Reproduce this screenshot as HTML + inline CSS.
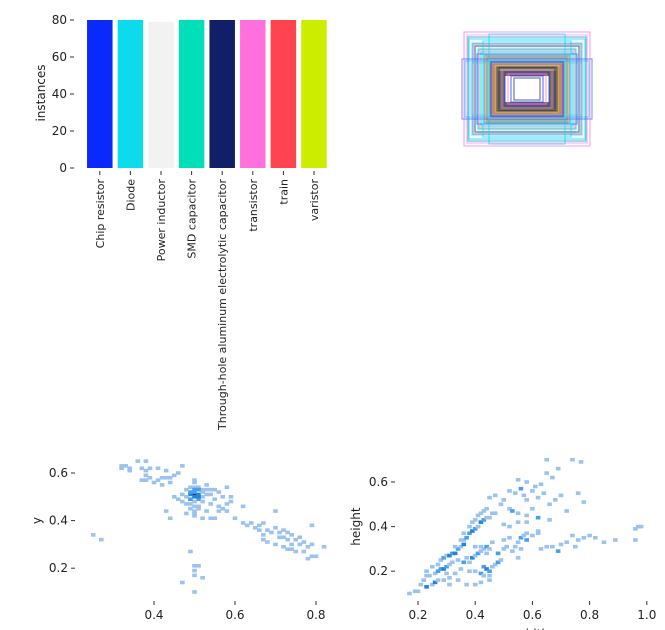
<!DOCTYPE html>
<html><head><meta charset="utf-8"><style>
html,body{margin:0;padding:0;background:#fff;}
svg{display:block;font-family:"DejaVu Sans","Liberation Sans",sans-serif;}
</style></head><body>
<svg id="root" width="665" height="630" viewBox="0 0 665 630">
<g id="bars"></g>
<g id="boxes"></g>
<g id="h1"></g>
<g id="h2"></g>
</svg>
<script>
const NS="http://www.w3.org/2000/svg";
const classNames=["Chip resistor","Diode","Power inductor","SMD capacitor","Through-hole aluminum electrolytic capacitor","transistor","train","varistor"];
const classCounts=[80,80,79,80,80,80,80,80];
const classColors=["#0a29fd","#0bdbeb","#f2f2f2","#00dfb7","#111f68","#ff6fdd","#ff444f","#cced00"];
const barTicks=[0,20,40,60,80];
const xyTicksX=[0.4,0.6,0.8];
const xyTicksY=[0.2,0.4,0.6];
const xyCells=[
[0.32,0.63,1],[0.33,0.63,1],[0.34,0.62,1],[0.32,0.62,1],[0.34,0.61,1],[0.36,0.65,1],[0.38,0.65,1],[0.37,0.62,1],[0.38,0.61,1],[0.39,0.62,1],[0.38,0.59,1],[0.37,0.57,1],[0.38,0.57,1],[0.39,0.58,1],[0.41,0.57,1],[0.42,0.58,1],[0.43,0.58,1],[0.44,0.58,1],[0.45,0.59,1],[0.41,0.62,1],[0.40,0.56,1],[0.42,0.55,1],[0.44,0.56,1],[0.46,0.60,1],[0.47,0.63,1],[0.43,0.61,1],
[0.5,0.51,4],[0.49,0.51,3],[0.51,0.51,3],[0.5,0.50,3],[0.5,0.52,2],[0.51,0.49,2],[0.49,0.52,2],[0.48,0.5,1],[0.47,0.51,1],[0.48,0.53,1],[0.49,0.54,1],[0.5,0.54,1],[0.51,0.54,1],[0.52,0.53,1],[0.53,0.53,1],[0.54,0.53,1],[0.55,0.53,1],[0.52,0.52,1],[0.53,0.51,1],[0.54,0.51,1],[0.52,0.50,1],[0.52,0.48,1],[0.5,0.48,1],[0.49,0.47,1],[0.48,0.47,1],[0.5,0.46,1],[0.49,0.45,1],[0.51,0.45,1],[0.5,0.44,1],[0.5,0.43,1],[0.5,0.42,1],[0.51,0.46,1],[0.47,0.48,1],[0.46,0.49,1],[0.45,0.50,1],[0.5,0.56,1],[0.5,0.57,1],[0.53,0.55,1],[0.56,0.52,1],[0.57,0.50,1],[0.55,0.49,1],[0.54,0.47,1],[0.56,0.46,1],[0.57,0.45,1],[0.58,0.47,1],[0.59,0.50,1],[0.59,0.48,1],[0.56,0.44,1],[0.53,0.44,1],[0.52,0.41,1],[0.54,0.41,1],[0.55,0.41,1],[0.58,0.44,1],[0.60,0.41,1],[0.62,0.46,1],[0.58,0.54,1],[0.50,0.53,2],[0.51,0.53,2],[0.49,0.49,2],[0.51,0.50,3],[0.48,0.43,1],[0.43,0.44,1],[0.44,0.41,1],
[0.62,0.39,1],[0.63,0.38,1],[0.64,0.39,1],[0.65,0.37,1],[0.66,0.38,1],[0.67,0.39,1],[0.66,0.36,1],[0.68,0.36,1],[0.67,0.34,1],[0.69,0.35,1],[0.70,0.37,1],[0.71,0.35,1],[0.72,0.36,1],[0.73,0.35,1],[0.74,0.34,1],[0.71,0.33,1],[0.72,0.33,1],[0.73,0.32,1],[0.75,0.32,1],[0.76,0.33,1],[0.77,0.31,1],[0.74,0.30,1],[0.76,0.30,1],[0.78,0.29,1],[0.79,0.30,1],[0.82,0.29,1],[0.70,0.30,1],[0.68,0.31,1],[0.72,0.29,1],[0.73,0.28,1],[0.75,0.27,1],[0.77,0.27,1],[0.79,0.25,1],[0.78,0.24,1],[0.80,0.25,1],[0.70,0.44,1],[0.79,0.38,1],[0.74,0.28,1],[0.67,0.32,1],
[0.25,0.34,1],[0.27,0.32,1],[0.49,0.27,1],[0.5,0.21,1],[0.51,0.21,1],[0.5,0.19,1],[0.5,0.17,1],[0.52,0.16,1],[0.47,0.14,1],[0.5,0.10,1]];
const whTicksX=[0.2,0.4,0.6,0.8,1.0];
const whTicksY=[0.2,0.4,0.6];
const whCells=[
[0.17,0.10,1],[0.19,0.11,1],[0.2,0.11,1],[0.21,0.14,1],[0.22,0.16,1],[0.23,0.18,1],[0.24,0.18,1],[0.23,0.13,3],[0.25,0.14,1],[0.26,0.15,3],[0.26,0.19,1],[0.27,0.20,2],[0.28,0.21,2],[0.29,0.21,3],[0.3,0.22,2],[0.31,0.23,1],[0.27,0.23,1],[0.28,0.25,1],[0.29,0.26,2],[0.3,0.27,1],[0.31,0.27,3],[0.32,0.28,2],[0.33,0.28,3],[0.34,0.30,2],[0.35,0.31,1],[0.36,0.32,3],[0.36,0.34,1],[0.37,0.35,2],[0.38,0.37,2],[0.39,0.38,3],[0.4,0.39,2],[0.41,0.40,1],[0.42,0.42,3],[0.43,0.43,2],[0.44,0.44,1],[0.45,0.44,1],[0.46,0.46,1],[0.47,0.46,1],[0.42,0.46,1],[0.43,0.47,1],[0.44,0.48,1],[0.38,0.40,1],[0.39,0.42,1],[0.40,0.43,1],[0.41,0.45,1],[0.36,0.37,1],[0.35,0.34,1],[0.33,0.31,1],[0.32,0.24,1],[0.34,0.25,1],[0.36,0.24,2],[0.38,0.24,1],[0.37,0.26,1],[0.39,0.26,3],[0.40,0.27,1],[0.41,0.28,2],[0.42,0.29,1],[0.43,0.30,1],[0.44,0.31,2],[0.45,0.30,1],[0.46,0.33,1],[0.40,0.31,1],[0.42,0.31,1],[0.44,0.28,1],[0.43,0.22,2],[0.44,0.21,3],[0.45,0.20,2],[0.46,0.22,1],[0.47,0.23,1],[0.48,0.24,2],[0.49,0.25,1],[0.42,0.19,2],[0.43,0.18,1],[0.45,0.18,1],[0.40,0.20,1],[0.38,0.20,1],[0.35,0.21,1],[0.33,0.19,1],[0.31,0.17,1],[0.29,0.16,1],[0.27,0.16,1],[0.31,0.14,1],[0.34,0.16,1],[0.37,0.14,1],[0.40,0.14,1],[0.42,0.15,1],[0.45,0.16,1],[0.30,0.19,1],[0.25,0.22,1],[0.23,0.20,1],[0.48,0.28,2],[0.50,0.30,1],[0.51,0.31,1],[0.50,0.34,1],[0.52,0.35,1],[0.53,0.29,1],[0.54,0.31,1],[0.55,0.33,1],[0.56,0.35,2],[0.57,0.36,1],[0.58,0.37,1],[0.60,0.36,1],[0.62,0.37,1],[0.62,0.38,1],[0.58,0.34,2],[0.56,0.30,1],[0.55,0.26,1],[0.5,0.41,1],[0.52,0.40,1],[0.55,0.42,1],[0.58,0.42,1],
[0.45,0.53,1],[0.47,0.54,1],[0.5,0.52,1],[0.52,0.56,1],[0.54,0.55,1],[0.56,0.57,2],[0.57,0.54,1],[0.58,0.52,1],[0.6,0.56,1],[0.62,0.53,1],[0.64,0.55,1],[0.66,0.50,1],[0.68,0.52,1],[0.70,0.54,1],[0.72,0.47,1],[0.76,0.55,1],[0.78,0.51,1],[0.55,0.61,1],[0.58,0.60,1],[0.61,0.58,1],[0.63,0.59,1],[0.65,0.64,1],[0.67,0.62,1],[0.65,0.70,1],[0.74,0.70,1],[0.77,0.69,1],[0.69,0.66,1],[0.52,0.48,1],[0.55,0.46,1],[0.58,0.45,1],[0.62,0.44,2],[0.66,0.43,1],[0.60,0.48,1],[0.49,0.50,1],[0.53,0.47,2],
[0.63,0.30,1],[0.65,0.31,1],[0.67,0.31,1],[0.69,0.29,2],[0.70,0.32,1],[0.72,0.33,1],[0.74,0.36,1],[0.76,0.34,1],[0.78,0.35,1],[0.80,0.36,1],[0.82,0.35,1],[0.85,0.33,1],[0.89,0.34,1],[0.96,0.39,1],[0.97,0.40,1],[0.98,0.40,1],[0.96,0.34,1],[0.75,0.31,1]];
const cellColors=["#fff","#9cc2ef","#4a9fec","#1f86e0","#283c55"];

function el(tag,attrs,parent,txt){const e=document.createElementNS(NS,tag);for(const k in attrs)e.setAttribute(k,attrs[k]);if(txt!==undefined)e.textContent=txt;parent.appendChild(e);return e;}

// bar chart
const gB=document.getElementById('bars');
const bx0=84.5,bstep=30.6,bw=25.5;
const by=v=>168-v*(148/80);
const bxc=i=>bx0+bstep*i+bstep/2;
barTicks.forEach(t=>{
 const ln=el('line',{x1:70,x2:74,y1:by(t),y2:by(t),stroke:'#333','stroke-width':1},gB);
 
 const tx=el('text',{x:67,y:by(t)+4,'font-size':12,'text-anchor':'end',fill:'#222'},gB,String(t));
 
});
classCounts.forEach((v,i)=>{
 const r=el('rect',{x:bxc(i)-bw/2,y:by(v),width:bw,height:by(0)-by(v),fill:classColors[i]},gB);
 
 
 const tk=el('line',{x1:bxc(i),x2:bxc(i),y1:171,y2:175,stroke:'#333'},gB);
 
 const lb=el('text',{transform:`translate(${bxc(i)+4},179) rotate(-90)`,'font-size':11,'text-anchor':'end',fill:'#222'},gB,classNames[i]);
 
});
const yl=el('text',{transform:'translate(45,93) rotate(-90)','font-size':12,'text-anchor':'middle',fill:'#222'},gB,'instances');


// box overlay
const gX=document.getElementById('boxes');
el('rect',{x:464,y:36,width:124,height:108,fill:'#0bdbeb','fill-opacity':0.08},gX);
el('rect',{x:478,y:46,width:98,height:88,fill:'#5fd0ea','fill-opacity':0.15},gX);
el('rect',{x:486,y:56,width:82,height:68,fill:'#00dfb7','fill-opacity':0.45},gX);
el('rect',{x:490,y:62,width:74,height:56,fill:'#ff444f','fill-opacity':0.45},gX);
el('rect',{x:494,y:67,width:66,height:46,fill:'#cc7a2a','fill-opacity':0.5},gX);
el('rect',{x:498,y:71,width:58,height:38,fill:'#111f68','fill-opacity':0.35},gX);
el('rect',{x:505,y:76,width:44,height:26,fill:'#ffffff'},gX);
const boxW=[126,120,116,110,104,98,92,86,80,74,68,62,56,50,44,38,32,26,130,124,112,100,88,76,118,108,96,84,72,60];
const boxH=[114,108,100,92,86,80,74,68,62,56,50,46,42,38,34,30,26,22,60,56,52,70,96,110,104,90,78,66,54,44];
const boxC=["#ff6fdd","#e8a0e8","#0bdbeb","#5fd0ea","#111f68","#00dfb7","#00dfb7","#0bdbeb","#ff444f","#cc7a2a","#ff444f","#cced00","#111f68","#9aa0c0","#0a29fd","#ff6fdd","#0a29fd","#111f68","#4060ff","#4aa0ff","#5fd0ea","#3050ff","#0bdbeb","#0bdbeb","#4a8ad0","#6a6ad0","#ff6fdd","#ff444f","#0a29fd","#111f68"];
boxW.forEach((w,i)=>{
 const r=el('rect',{x:527-w/2,y:89-boxH[i]/2,width:w,height:boxH[i],fill:'none',stroke:boxC[i],'stroke-opacity':0.6,'stroke-width':1.2},gX);
 
});

// histogram helper
function hist(g,cells,ticksX,ticksY,sx,sy,cw,ch,xl,ylab,ylX,tickLeftX,tickBottomY){
 ticksY.forEach(t=>{
  const ln=el('line',{x1:tickLeftX,x2:tickLeftX+4,y1:sy(t),y2:sy(t),stroke:'#333'},g);
  
  const tx=el('text',{x:tickLeftX-3,y:sy(t)+4,'font-size':12,'text-anchor':'end',fill:'#222'},g,t.toFixed(1));
  
 });
 ticksX.forEach(t=>{
  const ln=el('line',{x1:sx(t),x2:sx(t),y1:tickBottomY,y2:tickBottomY+4,stroke:'#333'},g);
  
  const tx=el('text',{x:sx(t),y:tickBottomY+18,'font-size':12,'text-anchor':'middle',fill:'#222'},g,t.toFixed(1));
  
 });
 cells.forEach(c=>{
  const r=el('rect',{x:sx(c[0])-cw/2,y:sy(c[1])-ch/2,width:cw,height:ch,fill:cellColors[Math.min(c[2],4)]},g);
  
 });
 const a=el('text',{x:(sx(ticksX[0])+sx(ticksX[ticksX.length-1]))/2,y:638,'font-size':12,'text-anchor':'middle',fill:'#222'},g,xl);
 
 const b=el('text',{transform:`translate(${ylX},${sy(0.4)}) rotate(-90)`,'font-size':12,'text-anchor':'middle',fill:'#222'},g,ylab);
 
}
const sx1=v=>154+(v-0.4)*405, sy1=v=>473-(v-0.6)*238;
hist(document.getElementById('h1'),xyCells,xyTicksX,xyTicksY,sx1,sy1,4.6,3.6,'x','y',41,71,601);
const sx2=v=>418+(v-0.2)*286, sy2=v=>482-(v-0.6)*223;
hist(document.getElementById('h2'),whCells,whTicksX,whTicksY,sx2,sy2,4.6,3.6,'width','height',360,391,601);
</script>
</body></html>
